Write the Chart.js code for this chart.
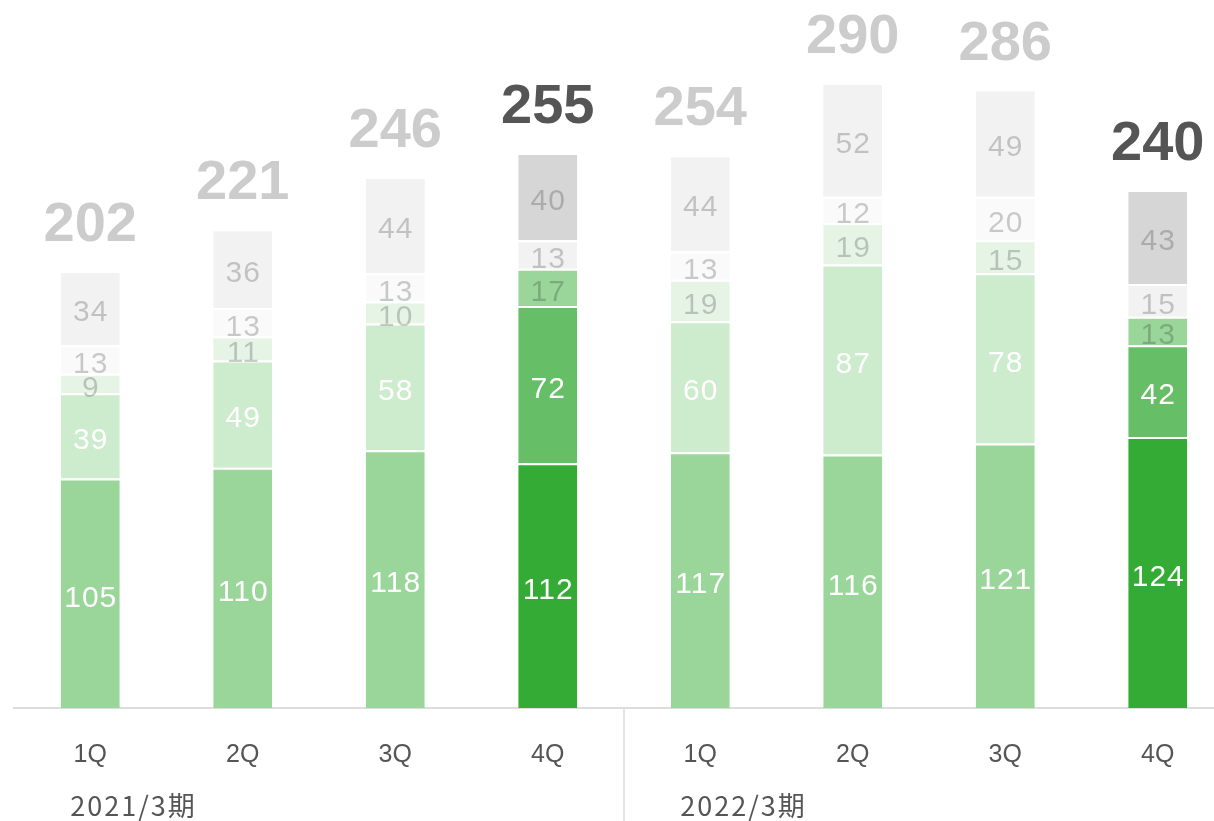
<!DOCTYPE html>
<html>
<head>
<meta charset="utf-8">
<script src="https://cdn.jsdelivr.net/npm/chart.js@4/dist/chart.umd.min.js"></script>
<style>
html,body{margin:0;padding:0;background:#fff;overflow:hidden;width:1214px;height:821px;}
canvas{display:block;}
</style>
</head>
<body>
<canvas id="c" width="1240" height="821"></canvas>
<script>
const categories = ['1Q','2Q','3Q','4Q','1Q','2Q','3Q','4Q'];
const periods = ['2021/3期','2022/3期'];
const periodStart = [0, 4];
const seg1 = [105,110,118,112,117,116,121,124];
const seg2 = [39,49,58,72,60,87,78,42];
const seg3 = [9,11,10,17,19,19,15,13];
const seg4 = [13,13,13,13,13,12,20,15];
const seg5 = [34,36,44,40,44,52,49,43];
const totals = [202,221,246,255,254,290,286,240];
const highlight = [false,false,false,true,false,false,false,true];

const normalColors = ['#9ad69a','#cdebcd','#e6f4e6','#fafafa','#f2f2f2'];
const hiColors = ['#34ab35','#66bf66','#9ad69a','#f2f2f2','#d6d6d6'];
const labelColors = ['#ffffff','#ffffff','rgba(0,0,0,0.2)','rgba(0,0,0,0.2)','rgba(0,0,0,0.2)'];
const series = [seg1, seg2, seg3, seg4, seg5];

const datasets = series.map((d, i) => ({
  data: d,
  backgroundColor: highlight.map(h => h ? hiColors[i] : normalColors[i]),
  borderColor: '#ffffff',
  borderWidth: {top: 2, bottom: 0, left: 0, right: 0},
  borderSkipped: false,
  categoryPercentage: 1.0,
  barPercentage: 0.387
}));

const labelPlugin = {
  id: 'labels',
  afterDatasetsDraw(chart) {
    const ctx = chart.ctx;
    ctx.save();
    ctx.textAlign = 'center';
    ctx.textBaseline = 'middle';
    ctx.font = '30px "Liberation Sans", Arial, sans-serif';
    try { ctx.letterSpacing = '1px'; } catch (e) {}
    chart.data.datasets.forEach((ds, i) => {
      const meta = chart.getDatasetMeta(i);
      meta.data.forEach((el, j) => {
        const cy = (el.y + el.base) / 2 + 5;
        ctx.fillStyle = labelColors[i];
        ctx.fillText(String(ds.data[j]), el.x + 0.5, cy);
      });
    });
    try { ctx.letterSpacing = '0px'; } catch (e) {}
    // totals
    const topMeta = chart.getDatasetMeta(chart.data.datasets.length - 1);
    ctx.textBaseline = 'alphabetic';
    ctx.font = 'bold 56px "Liberation Sans", Arial, sans-serif';
    topMeta.data.forEach((el, j) => {
      ctx.fillStyle = highlight[j] ? '#555555' : '#cccccc';
      ctx.fillText(String(totals[j]), el.x, el.y - 30);
    });
    ctx.restore();
  },
  afterDraw(chart) {
    const ctx = chart.ctx;
    const xs = chart.scales.x;
    const bottom = chart.chartArea.bottom;
    ctx.save();
    // separator
    const sx = (xs.getPixelForValue(3) + xs.getPixelForValue(4)) / 2;
    ctx.strokeStyle = '#dddddd';
    ctx.lineWidth = 1.5;
    ctx.beginPath();
    ctx.moveTo(sx, bottom);
    ctx.lineTo(sx, chart.height);
    ctx.stroke();
    // period labels
    ctx.fillStyle = '#555555';
    ctx.font = '27px "Noto Sans CJK JP", "Liberation Sans", sans-serif';
    try { ctx.letterSpacing = '2px'; } catch (e) {}
    ctx.textAlign = 'left';
    ctx.textBaseline = 'middle';
    periods.forEach((p, k) => {
      ctx.fillText(p, xs.getPixelForValue(periodStart[k]) - 20, 806);
    });
    ctx.restore();
  }
};

new Chart(document.getElementById('c'), {
  type: 'bar',
  data: { labels: categories, datasets },
  options: {
    responsive: false,
    animation: false,
    devicePixelRatio: 1,
    layout: { padding: { left: 14, right: 6, top: 0, bottom: 0 } },
    plugins: { legend: { display: false }, tooltip: { enabled: false } },
    scales: {
      x: {
        stacked: true,
        grid: { display: false, drawTicks: false },
        border: { display: true, color: '#dddddd', width: 2 },
        ticks: {
          color: '#555555',
          font: { family: '"Liberation Sans", Arial, sans-serif', size: 25 },
          padding: 32,
          maxRotation: 0
        },
        afterFit(scale) { scale.height = 113; }
      },
      y: {
        stacked: true,
        display: false,
        min: 0,
        max: 324
      }
    }
  },
  plugins: [labelPlugin]
});
</script>
</body>
</html>
